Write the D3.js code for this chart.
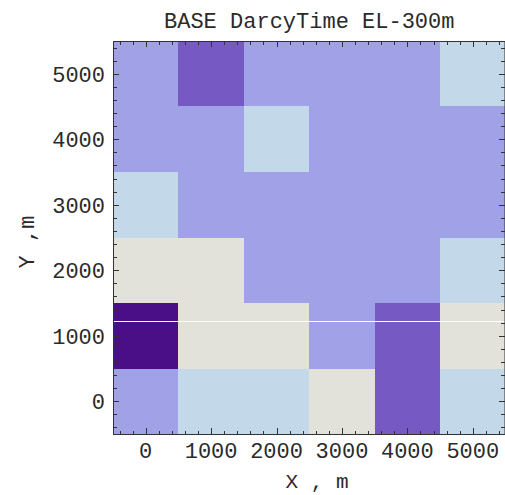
<!DOCTYPE html>
<html>
<head>
<meta charset="utf-8">
<script src="https://cdn.jsdelivr.net/npm/d3@7"></script>
<style>
	body { margin: 0; background: #fff; }
	svg text { font-family: "Liberation Mono", "DejaVu Sans Mono", monospace; fill: #2a2a2a; }
</style>
</head>
<body>
<svg id="chart" width="505" height="495"></svg>
<script>
// cell centres, metres
var xs = [0, 1000, 2000, 3000, 4000, 5000];
var ys = [0, 1000, 2000, 3000, 4000, 5000];
// DarcyTime class per cell, rows from y=0 upwards
var levels = [
	[3, 2, 2, 1, 4, 2],
	[5, 1, 1, 3, 4, 1],
	[1, 1, 3, 3, 3, 2],
	[2, 3, 3, 3, 3, 3],
	[3, 3, 2, 3, 3, 3],
	[3, 4, 3, 3, 3, 2]
];
var levelColors = ["#e2e2da", "#c3d8e8", "#a1a1e8", "#7759c4", "#4a0e86"];
var tickValues = [0, 1000, 2000, 3000, 4000, 5000];

var svg = d3.select("#chart");
var margin = { left: 113, top: 41, right: 505.5, bottom: 434 };

var x = d3.scaleLinear().domain([-500, 5500]).range([margin.left, margin.right]);
var y = d3.scaleLinear().domain([-500, 5500]).range([margin.bottom, margin.top]);
var color = d3.scaleOrdinal().domain([1, 2, 3, 4, 5]).range(levelColors);

var cells = [];
ys.forEach(function(yv, i) {
	xs.forEach(function(xv, j) {
		cells.push({ x: xv, y: yv, v: levels[i][j] });
	});
});

// snap cell edges to whole pixels so no seams show
function px(v) { return Math.round(v); }

svg.append("g")
	.attr("shape-rendering", "crispEdges")
	.selectAll("rect")
	.data(cells)
	.enter().append("rect")
	.attr("x", function(d) { return px(x(d.x - 500)); })
	.attr("y", function(d) { return px(y(d.y + 500)); })
	.attr("width", function(d) { return px(x(d.x + 500)) - px(x(d.x - 500)); })
	.attr("height", function(d) { return px(y(d.y - 500)) - px(y(d.y + 500)); })
	.attr("fill", function(d) { return color(d.v); });

// thin rendering seam seen in the original
svg.append("line")
	.attr("x1", margin.left).attr("x2", margin.right)
	.attr("y1", Math.round(y(1225)) + 0.5).attr("y2", Math.round(y(1225)) + 0.5)
	.attr("stroke", "#fff").attr("stroke-width", 1);

// frame
svg.append("rect")
	.attr("x", margin.left + 0.5).attr("y", margin.top + 0.5)
	.attr("width", margin.right - margin.left - 1)
	.attr("height", margin.bottom - margin.top)
	.attr("fill", "none").attr("stroke", "#333").attr("stroke-width", 1);

var minor = d3.range(-400, 5500, 200).filter(function(v) { return v % 1000 != 0; });

function ticks(axis, values, len) {
	var g = svg.append("g").attr("stroke", "#333").attr("stroke-width", 1)
		.attr("shape-rendering", "crispEdges");
	values.forEach(function(v) {
		if (axis == "x") {
			var p = Math.round(x(v)) + 0.5;
			g.append("line").attr("x1", p).attr("x2", p).attr("y1", margin.bottom).attr("y2", margin.bottom - len);
			g.append("line").attr("x1", p).attr("x2", p).attr("y1", margin.top).attr("y2", margin.top + len);
		} else {
			var p = Math.round(y(v)) + 0.5;
			g.append("line").attr("y1", p).attr("y2", p).attr("x1", margin.left).attr("x2", margin.left + len);
			g.append("line").attr("y1", p).attr("y2", p).attr("x1", margin.right - 1).attr("x2", margin.right - 1 - len);
		}
	});
}
ticks("x", tickValues, 6);
ticks("x", minor, 3.5);
ticks("y", tickValues, 6);
ticks("y", minor, 3.5);

svg.append("g").selectAll("text")
	.data(tickValues)
	.enter().append("text")
	.attr("x", function(d) { return x(d); })
	.attr("y", 458)
	.attr("text-anchor", "middle")
	.attr("font-size", 22)
	.text(function(d) { return d; });

svg.append("g").selectAll("text")
	.data(tickValues)
	.enter().append("text")
	.attr("x", 105)
	.attr("y", function(d) { return y(d) + 8; })
	.attr("text-anchor", "end")
	.attr("font-size", 22)
	.text(function(d) { return d; });

svg.append("text")
	.attr("x", (margin.left + margin.right) / 2)
	.attr("y", 28)
	.attr("text-anchor", "middle")
	.attr("font-size", 22)
	.text("BASE DarcyTime EL-300m");

svg.append("text")
	.attr("x", 317)
	.attr("y", 488)
	.attr("text-anchor", "middle")
	.attr("font-size", 21)
	.text("X , m");

svg.append("text")
	.attr("transform", "translate(34,242) rotate(-90)")
	.attr("text-anchor", "middle")
	.attr("font-size", 22)
	.text("Y ,m");
</script>
</body>
</html>
